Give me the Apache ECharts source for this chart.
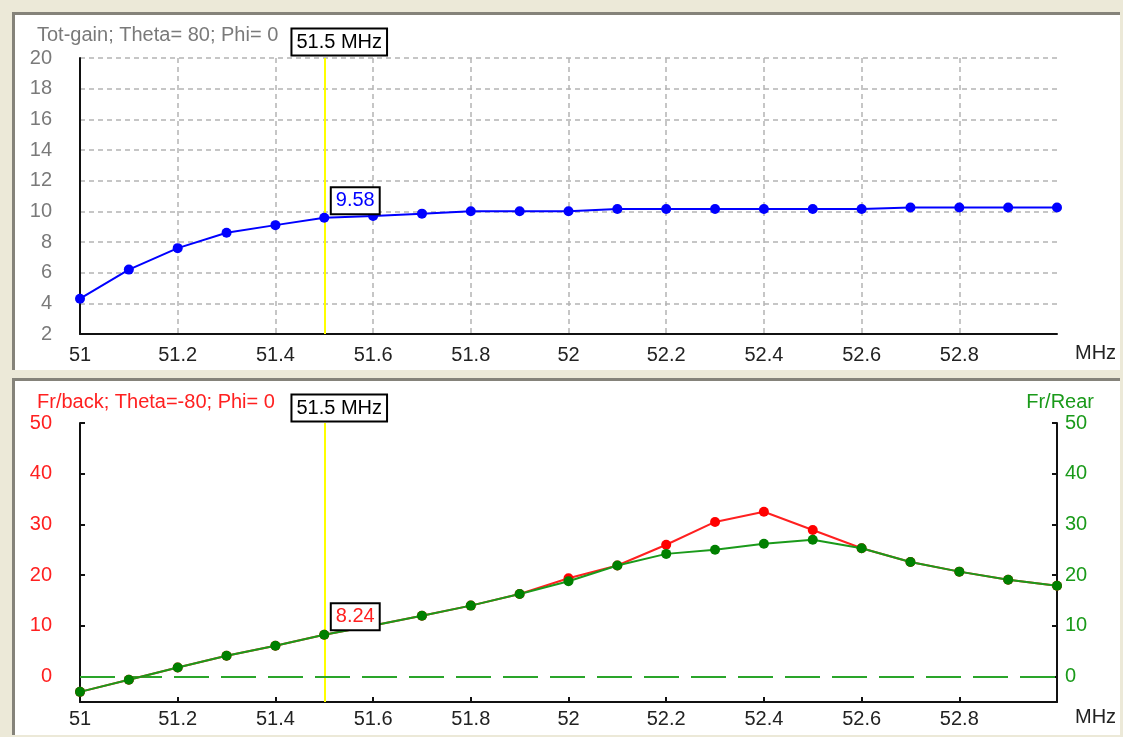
<!DOCTYPE html>
<html>
<head>
<meta charset="utf-8">
<script src="https://cdn.jsdelivr.net/npm/echarts@6/dist/echarts.min.js"></script>
<style>
html,body{margin:0;padding:0;background:#ECE9D8;}
#chart{width:1123px;height:737px;}
</style>
</head>
<body>
<div id="chart"></div>
<script>
// Data
const freqs = [51.0, 51.1, 51.2, 51.3, 51.4, 51.5, 51.6, 51.7, 51.8, 51.9, 52.0, 52.1, 52.2, 52.3, 52.4, 52.5, 52.6, 52.7, 52.8, 52.9, 53.0];
const totGain = [4.3, 6.2, 7.6, 8.6, 9.1, 9.58, 9.7, 9.85, 10.0, 10.0, 10.0, 10.15, 10.15, 10.15, 10.15, 10.15, 10.15, 10.25, 10.25, 10.25, 10.25];
const frBack = [-3.0, -0.6, 1.8, 4.1, 6.1, 8.24, 10.1, 12.0, 14.0, 16.3, 19.4, 21.9, 26.0, 30.5, 32.5, 28.9, 25.3, 22.6, 20.7, 19.1, 17.9];
const frRear = [-3.0, -0.6, 1.8, 4.1, 6.1, 8.24, 10.1, 12.0, 14.0, 16.3, 18.8, 21.9, 24.2, 25.0, 26.2, 27.0, 25.3, 22.6, 20.7, 19.1, 17.9];
const cursorFreq = 51.5;
const gainTicks = [2, 20, 2]; // min, max, step
const fbTickLabels = [0, 10, 20, 30, 40, 50];
const titles = ['Tot-gain; Theta= 80; Phi= 0', 'Fr/back; Theta=-80; Phi= 0', 'Fr/Rear'];

const FONT = 'Liberation Sans, Arial, sans-serif';
const zip = (xs, ys) => xs.map((x, i) => [x, ys[i]]);
const idx = freqs.indexOf(cursorFreq);

const chart = echarts.init(document.getElementById('chart'), null, {renderer: 'canvas'});

const boxLabel = (text, color, offset) => ({
  show: true, position: 'inside', offset: offset, formatter: text,
  color: color, fontFamily: FONT, fontSize: 20,
  backgroundColor: '#fff', borderColor: '#000', borderWidth: 2, padding: [3, 4, 2, 4]
});

const xAxisBase = (gridIndex, opts) => Object.assign({
  type: 'value', gridIndex: gridIndex, min: 51, max: 53, interval: 0.2,
  name: 'MHz', nameLocation: 'end', nameGap: 18,
  nameTextStyle: {fontFamily: FONT, fontSize: 20, color: '#222', verticalAlign: 'top', padding: [opts.nameTop, 0, 0, 0]},
  axisLine: {show: true, onZero: false, lineStyle: {color: '#111', width: 2}},
  axisLabel: {fontFamily: FONT, fontSize: 20, color: '#222', margin: opts.margin, showMaxLabel: false},
}, opts.extra);

const option = {
  animation: false,
  backgroundColor: '#ECE9D8',
  graphic: [
    {type: 'rect', z: -10, shape: {x: 12, y: 12, width: 1108, height: 358}, style: {fill: '#fff'}},
    {type: 'polyline', z: -9, shape: {points: [[13.5, 370], [13.5, 13.5], [1120, 13.5]]}, style: {stroke: '#85837a', lineWidth: 3, fill: null}},
    {type: 'rect', z: -10, shape: {x: 12, y: 378, width: 1108, height: 357}, style: {fill: '#fff'}},
    {type: 'polyline', z: -9, shape: {points: [[13.5, 735], [13.5, 379.5], [1120, 379.5]]}, style: {stroke: '#85837a', lineWidth: 3, fill: null}}
  ],
  title: [
    {text: titles[0], left: 32, top: 20, textStyle: {fontFamily: FONT, fontSize: 20, fontWeight: 'normal', color: '#7a7a7a'}},
    {text: titles[1], left: 32, top: 387, textStyle: {fontFamily: FONT, fontSize: 20, fontWeight: 'normal', color: '#ff2020'}},
    {text: titles[2], right: 24, top: 387, textStyle: {fontFamily: FONT, fontSize: 20, fontWeight: 'normal', color: '#1a9a1a'}}
  ],
  grid: [
    {left: 80, right: 66, top: 58, height: 276},
    {left: 80, right: 66, top: 423, height: 279}
  ],
  xAxis: [
    xAxisBase(0, {margin: 11, nameTop: 9, extra: {
      axisTick: {show: false},
      splitLine: {show: true, showMinLine: false, showMaxLine: false, lineStyle: {color: '#b4b4b4', type: [5, 4], width: 1.5}}
    }}),
    xAxisBase(1, {margin: 7, nameTop: 5, extra: {
      axisTick: {show: true, inside: true, length: 5, lineStyle: {color: '#111', width: 2}},
      splitLine: {show: false}
    }})
  ],
  yAxis: [
    {type: 'value', gridIndex: 0, min: gainTicks[0], max: gainTicks[1], interval: gainTicks[2],
     axisLine: {show: true, onZero: false, lineStyle: {color: '#111', width: 2}},
     axisTick: {show: false},
     axisLabel: {fontFamily: FONT, fontSize: 20, color: '#7a7a7a', margin: 28},
     splitLine: {show: true, showMinLine: false, lineStyle: {color: '#b4b4b4', type: [5, 4], width: 1.5}}},
    {type: 'value', gridIndex: 1, min: -5, max: 50, interval: 5, position: 'left',
     axisLine: {show: true, onZero: false, lineStyle: {color: '#111', width: 2}},
     axisTick: {show: true, inside: true, length: 5, customValues: fbTickLabels, lineStyle: {color: '#111', width: 2}},
     axisLabel: {fontFamily: FONT, fontSize: 20, color: '#ff2020', margin: 28, customValues: fbTickLabels},
     splitLine: {show: false}},
    {type: 'value', gridIndex: 1, min: -5, max: 50, interval: 5, position: 'right',
     axisLine: {show: true, onZero: false, lineStyle: {color: '#111', width: 2}},
     axisTick: {show: true, inside: true, length: 5, customValues: fbTickLabels, lineStyle: {color: '#111', width: 2}},
     axisLabel: {fontFamily: FONT, fontSize: 20, color: '#1a9a1a', margin: 8, customValues: fbTickLabels},
     splitLine: {show: false}}
  ],
  series: [
    {
      name: 'Tot-gain', type: 'line', xAxisIndex: 0, yAxisIndex: 0,
      data: zip(freqs, totGain),
      symbol: 'circle', symbolSize: 10, showAllSymbol: true,
      lineStyle: {color: '#0000ff', width: 2}, itemStyle: {color: '#0000ff'},
      z: 5,
      markLine: {silent: true, symbol: 'none', label: {show: false}, z: 1,
        lineStyle: {color: '#ffff00', width: 2, type: 'solid'},
        data: [{xAxis: cursorFreq}]},
      markPoint: {silent: true, symbol: 'circle', symbolSize: 0, z: 20,
        data: [
          {coord: [cursorFreq, totGain[idx]], label: boxLabel(String(totGain[idx]), '#0000ff', [31, -17])},
          {coord: [cursorFreq, gainTicks[1]], label: boxLabel(cursorFreq + ' MHz', '#000', [15, -16])}
        ]}
    },
    {
      name: 'Fr/back', type: 'line', xAxisIndex: 1, yAxisIndex: 1,
      data: zip(freqs, frBack),
      symbol: 'circle', symbolSize: 10, showAllSymbol: true,
      lineStyle: {color: '#ff2020', width: 2}, itemStyle: {color: '#ff0000'},
      z: 4,
      markLine: {silent: true, symbol: 'none', label: {show: false}, z: 1,
        lineStyle: {color: '#ffff00', width: 2, type: 'solid'},
        data: [{xAxis: cursorFreq}]},
      markPoint: {silent: true, symbol: 'circle', symbolSize: 0, z: 20,
        data: [
          {coord: [cursorFreq, frBack[idx]], label: boxLabel(String(frBack[idx]), '#ff2020', [31, -18])},
          {coord: [cursorFreq, 50], label: boxLabel(cursorFreq + ' MHz', '#000', [15, -15])}
        ]}
    },
    {
      name: 'Fr/Rear', type: 'line', xAxisIndex: 1, yAxisIndex: 2,
      data: zip(freqs, frRear),
      symbol: 'circle', symbolSize: 10, showAllSymbol: true,
      lineStyle: {color: '#1a9a1a', width: 2}, itemStyle: {color: '#008000'},
      z: 6,
      markLine: {silent: true, symbol: 'none', label: {show: false}, z: 2,
        lineStyle: {color: '#2aa52a', width: 2, type: [35, 12]},
        data: [{yAxis: 0}]}
    }
  ]
};
chart.setOption(option);
</script>
</body>
</html>
